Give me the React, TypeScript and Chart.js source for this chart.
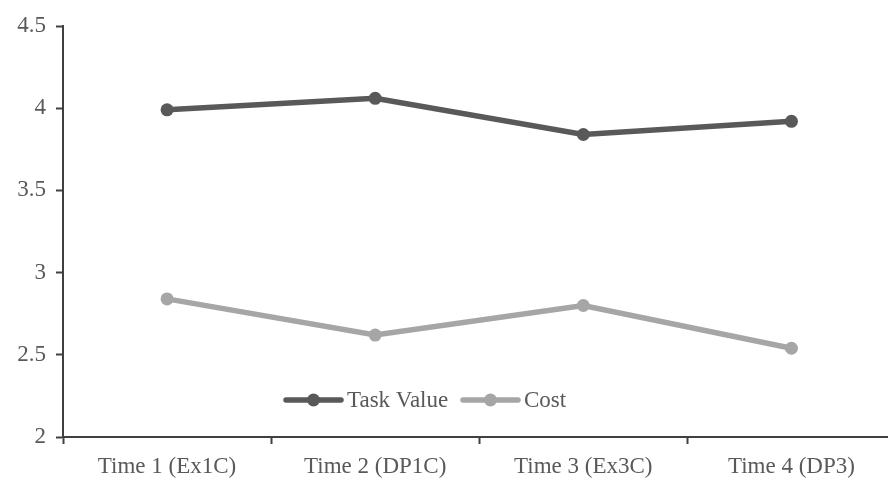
import React, { useEffect, useRef } from "react";
import { Chart, registerables } from "chart.js";

Chart.register(...registerables);

const categories = ["Time 1 (Ex1C)", "Time 2 (DP1C)", "Time 3 (Ex3C)", "Time 4 (DP3)"];
const taskValue = [3.99, 4.06, 3.84, 3.92];
const cost = [2.84, 2.62, 2.8, 2.54];
const seriesNames = ["Task Value", "Cost"];
const seriesColors = ["#595959", "#a6a6a6"];

const FONT = "'Liberation Serif', 'Times New Roman', serif";

const legendPlugin = {
  id: "inlineLegend",
  afterDraw(chart: any) {
    const ctx = chart.ctx;
    const area = chart.chartArea;
    const y = area.bottom - 37;
    const items = [
      { x: 286, w: 55, name: seriesNames[0], color: seriesColors[0] },
      { x: 463, w: 55, name: seriesNames[1], color: seriesColors[1] },
    ];
    ctx.save();
    ctx.font = `23px ${FONT}`;
    ctx.textBaseline = "middle";
    ctx.textAlign = "left";
    for (const it of items) {
      ctx.strokeStyle = it.color;
      ctx.lineWidth = 5.5;
      ctx.lineCap = "round";
      ctx.beginPath();
      ctx.moveTo(it.x, y);
      ctx.lineTo(it.x + it.w, y);
      ctx.stroke();
      ctx.fillStyle = it.color;
      ctx.beginPath();
      ctx.arc(it.x + it.w / 2, y, 6.5, 0, Math.PI * 2);
      ctx.fill();
      ctx.fillStyle = "#595959";
      ctx.fillText(it.name, it.x + it.w + 6, y + 1);
    }
    ctx.restore();
  },
};

export default function App() {
  const ref = useRef<HTMLCanvasElement>(null);
  useEffect(() => {
    if (!ref.current) return;
    const chart = new Chart(ref.current, {
      type: "line",
      data: {
        labels: categories,
        datasets: [
          {
            label: seriesNames[0],
            data: taskValue,
            borderColor: seriesColors[0],
            backgroundColor: seriesColors[0],
            borderWidth: 5.5,
            pointRadius: 6.5,
            pointBorderWidth: 0,
            tension: 0,
          },
          {
            label: seriesNames[1],
            data: cost,
            borderColor: seriesColors[1],
            backgroundColor: seriesColors[1],
            borderWidth: 5.5,
            pointRadius: 6.5,
            pointBorderWidth: 0,
            tension: 0,
          },
        ],
      },
      options: {
        responsive: false,
        animation: false,
        layout: { padding: { top: 26, right: 2, left: 0, bottom: 0 } },
        plugins: { legend: { display: false }, tooltip: { enabled: false } },
        scales: {
          x: {
            offset: true,
            grid: {
              offset: true,
              drawOnChartArea: false,
              drawTicks: true,
              tickLength: 7,
              tickWidth: 2,
              tickColor: "#404040",
            },
            border: { color: "#404040", width: 2 },
            ticks: {
              color: "#595959",
              font: { family: FONT, size: 23 },
              padding: 9,
              maxRotation: 0,
            },
            afterFit(scale: any) {
              scale.height = 47;
            },
          },
          y: {
            min: 2,
            max: 4.5,
            grid: {
              drawOnChartArea: false,
              drawTicks: true,
              tickLength: 7,
              tickWidth: 2,
              tickColor: "#404040",
            },
            border: { color: "#404040", width: 2 },
            ticks: {
              stepSize: 0.5,
              color: "#595959",
              font: { family: FONT, size: 23 },
              padding: 10,
              callback: (v: any) => String(Number(v)),
            },
            afterFit(scale: any) {
              scale.width = 63;
            },
          },
        },
      },
      plugins: [legendPlugin],
    });
    return () => chart.destroy();
  }, []);
  return (
    <div style={{ position: "fixed", left: 0, top: 0, width: 902, height: 484, background: "#fff" }}>
      <canvas ref={ref} width={902} height={484} style={{ display: "block" }} />
    </div>
  );
}
